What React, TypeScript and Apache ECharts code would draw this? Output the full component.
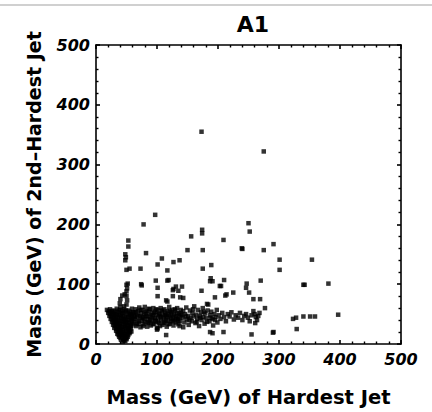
import React, { useEffect, useRef } from "react";
import * as echarts from "echarts";

const titleText = "A1";
const xAxisName = "Mass (GeV) of Hardest Jet";
const yAxisName = "Mass (GeV) of 2nd\u2013Hardest Jet";
const axisMin = 0;
const axisMax = 500;
const majorStep = 100;

// dense core near low masses
const coreCluster: number[][] = [
  [18,57],[23,58],[29,56],[34,59],[40,57],[46,58],[53,56],[59,59],
  [20,52],[26,53],[31,51],[37,53],[43,52],[49,54],[55,51],[61,53],
  [22,47],[27,48],[33,46],[38,48],[44,47],[50,46],[56,48],[62,47],
  [24,42],[29,43],[35,41],[41,43],[46,42],[52,41],[58,43],
  [26,37],[31,38],[37,36],[42,38],[48,37],[54,36],[59,38],
  [28,32],[33,33],[39,31],[45,33],[50,32],[56,31],[60,33],
  [30,27],[35,28],[41,26],[46,28],[52,27],[57,26],
  [33,22],[38,23],[43,21],[49,22],[54,23],[58,21],
  [35,17],[40,18],[45,16],[50,17],[55,18],
  [38,12],[43,13],[47,11],[52,12],
  [41,7],[46,6],[50,8],
  [21,55],[26,55],[32,54],[37,56],[43,55],[49,56],[56,54],
  [23,50],[29,50],[34,49],[40,50],[46,51],[52,49],[58,50],
  [25,45],[30,45],[36,44],[41,45],[47,44],[53,45],[59,45],
  [27,40],[32,40],[38,39],[44,40],[49,39],[55,40],[60,41],
  [29,35],[34,35],[40,34],[45,36],[51,35],[57,34],
  [31,30],[37,30],[42,29],[48,30],[53,29],[58,30],
  [33,25],[38,25],[44,24],[49,25],[55,25],
  [36,20],[41,20],[46,19],[52,20],[56,20],
  [37,15],[42,15],[48,14],[53,15],
  [40,10],[45,9],[50,10],
  [44,4],[48,5],
  [40,62],[39,68],[40,75],[43,81],[47,83],[50,80],[51,73],[50,66],[46,63],
  [50,88],[51,93],[50,99],[52,101],[50,124],[55,126],[48,140],[49,145],[48,150],[53,163],[53,173]
];

// band of events along ~45 GeV
const bandEvents: number[][] = [
  [62,52],[63,36],[64,45],[65,58],[66,30],[67,49],[68,40],[69,55],[70,34],[71,61],
  [72,46],[73,28],[74,52],[75,39],[76,57],[77,44],[78,33],[79,50],[80,62],[81,37],
  [82,47],[83,55],[84,29],[85,42],[86,51],[87,36],[88,58],[89,45],[90,31],[91,53],
  [92,40],[93,48],[94,60],[95,34],[96,44],[97,54],[98,38],[99,49],[100,27],[101,57],
  [102,43],[103,35],[104,51],[105,46],[106,60],[107,39],[108,55],[109,32],[110,48],[111,42],
  [112,58],[113,36],[114,52],[115,45],[116,29],[117,55],[118,40],[119,49],[120,62],[121,34],
  [122,46],[123,53],[124,38],[125,57],[126,44],[127,31],[128,50],[129,41],[130,56],[131,36],
  [132,47],[133,60],[134,42],[135,33],[136,52],[137,45],[138,38],[139,57],[140,48],
  [63,42],[65,53],[67,33],[69,47],[71,38],[73,57],[75,45],[77,30],[79,41],[81,54],
  [83,46],[85,35],[87,59],[89,39],[91,47],[93,33],[95,52],[97,41],[99,58],[101,37],
  [103,50],[105,30],[107,45],[109,56],[111,35],[113,49],[115,39],[117,47],[119,33],[121,55],
  [123,42],[125,49],[127,38],[129,58],[131,44],[133,51],[135,40],[137,30],[139,50],
  [142,44],[143,55],[145,36],[146,50],[148,61],[149,41],[151,47],[152,32],[154,56],[155,44],
  [157,38],[158,52],[160,46],[161,63],[163,35],[164,49],[166,42],[167,57],[169,30],[170,47],
  [172,53],[173,40],[175,60],[176,45],[178,34],[179,51],[181,43],[183,56],[184,66],[186,38],
  [187,48],[189,54],[191,42],[192,31],[194,50],[196,45],[198,57],[199,36],[201,48],
  [147,46],[153,40],[159,58],[165,37],[171,44],[177,54],[182,37],[188,44],[195,40],
  [204,42],[207,52],[210,45],[213,38],[216,50],[219,46],[222,53],[226,41],[229,48],[233,44],
  [236,52],[240,40],[243,47],[246,50],[249,44],[252,38],[255,48],[258,55],[260,50],[262,45],
  [264,40],[261,35],[266,47],[268,52]
];

// scattered events
const scatteredEvents: number[][] = [
  [101,26],[115,15],[100,24],[143,28],[187,20],[191,18],[209,20],[255,16],[291,20],[290,19],[329,25],
  [74,100],[98,106],[117,106],[101,94],[126,90],[101,80],[115,73],[126,80],[127,92],[135,89],
  [138,78],[143,77],[173,89],[182,67],[187,105],[188,110],[191,105],[195,78],[203,97],[212,81],
  [214,83],[225,86],[246,94],[251,86],[258,75],[269,75],[270,106],[277,60],[340,99],[381,101],
  [131,96],[141,96],[205,97],[210,107],[119,107],[73,126],[75,98],[117,71],[108,143],[101,133],
  [127,137],[137,140],[117,123],[175,126],[189,132],[82,152],[150,157],[175,157],[240,159],
  [209,174],[156,180],[174,191],[174,185],[78,200],[97,216],[250,202],[252,188],[239,160],
  [275,157],[291,167],[301,141],[301,124],[354,141],[342,99],[247,101],[173,355],[275,322],
  [323,42],[328,44],[340,46],[351,46],[359,46],[397,49]
];

const allEvents = [...coreCluster, ...bandEvents, ...scatteredEvents];

export default function App() {
  const ref = useRef<HTMLDivElement>(null);
  useEffect(() => {
    if (!ref.current) return;
    const chart = echarts.init(ref.current, null, { renderer: "svg" });
    const font = "'DejaVu Sans', Verdana, sans-serif";
    const tickLabel = {
      fontFamily: font,
      fontStyle: "italic" as const,
      fontWeight: "bold" as const,
      fontSize: 16,
      color: "#000",
    };
    const baseAxis = {
      min: axisMin,
      max: axisMax,
      interval: majorStep,
      splitLine: { show: false },
      axisLine: { show: true, onZero: false, lineStyle: { color: "#000", width: 1.6 } },
      axisTick: { show: true, inside: true, length: 4, lineStyle: { color: "#000", width: 1.6 } },
      minorTick: { show: true, splitNumber: 5, length: 2.5, lineStyle: { color: "#000", width: 1.4 } },
    };
    chart.setOption({
      animation: false,
      backgroundColor: "#fff",
      title: {
        text: titleText,
        left: 248,
        top: 8,
        textAlign: "center",
        textStyle: { fontFamily: font, fontWeight: "bold", fontSize: 22, color: "#000" },
      },
      graphic: [
        { type: "rect", shape: { x: 0, y: 4, width: 432, height: 2 }, style: { fill: "#d0d0d0" } },
      ],
      grid: { left: 96, right: 31, top: 45, bottom: 65 },
      xAxis: [
        {
          ...baseAxis,
          type: "value",
          position: "bottom",
          name: xAxisName,
          nameLocation: "middle",
          nameGap: 43,
          nameTextStyle: { fontFamily: font, fontWeight: "bold", fontSize: 19.5, color: "#000" },
          axisLabel: { ...tickLabel, margin: 7 },
        },
        {
          ...baseAxis,
          type: "value",
          position: "top",
          axisLabel: { show: false },
        },
      ],
      yAxis: [
        {
          ...baseAxis,
          type: "value",
          position: "left",
          name: yAxisName,
          nameLocation: "middle",
          nameGap: 53,
          nameTextStyle: { fontFamily: font, fontWeight: "bold", fontSize: 19, color: "#000" },
          axisLabel: { ...tickLabel, margin: 6 },
        },
        {
          ...baseAxis,
          type: "value",
          position: "right",
          axisLabel: { show: false },
        },
      ],
      series: [
        {
          type: "scatter",
          xAxisIndex: 0,
          yAxisIndex: 0,
          data: allEvents,
          symbol: "rect",
          symbolSize: 4.5,
          itemStyle: { color: "#000" },
        },
      ],
    });
    return () => chart.dispose();
  }, []);
  return (
    <div
      ref={ref}
      style={{ position: "absolute", left: 0, top: 0, width: 432, height: 412 }}
    />
  );
}
